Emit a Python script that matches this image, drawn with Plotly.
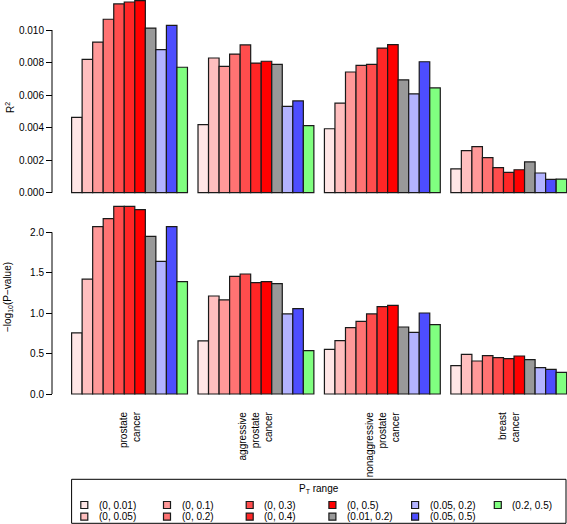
import plotly.graph_objects as go

# ---------------- data ----------------
categories = ["prostate<br>cancer",
              "aggressive<br>prostate<br>cancer",
              "nonaggressive<br>prostate<br>cancer",
              "breast<br>cancer"]
pt_ranges = ["(0, 0.01)", "(0, 0.05)", "(0, 0.1)", "(0, 0.2)", "(0, 0.3)",
             "(0, 0.4)", "(0, 0.5)", "(0.01, 0.2)", "(0.05, 0.2)",
             "(0.05, 0.5)", "(0.2, 0.5)"]
colors = ["#FFE6E6", "#FFBFBF", "#FF9999", "#FF7373", "#FF4D4D", "#FF2626",
          "#FF0000", "#999999", "#B3B3FF", "#4D4DFF", "#80FF80"]

r2_prostate = [0.00463, 0.0082, 0.00926, 0.01066, 0.0116, 0.01172, 0.0118,
               0.01012, 0.00879, 0.01029, 0.00771]
r2_aggressive = [0.00418, 0.00828, 0.00777, 0.00852, 0.00908, 0.00797,
                 0.00808, 0.00789, 0.00531, 0.00564, 0.00412]
r2_nonaggressive = [0.00393, 0.00551, 0.00742, 0.00783, 0.00789, 0.00889,
                    0.0091, 0.00693, 0.00608, 0.00805, 0.00644]
r2_breast = [0.00146, 0.00258, 0.00283, 0.00215, 0.00154, 0.00125, 0.00141,
             0.00189, 0.00121, 0.00082, 0.00084]

lp_prostate = [0.755, 1.42, 2.07, 2.17, 2.32, 2.32, 2.28, 1.95, 1.64, 2.07, 1.39]
lp_aggressive = [0.656, 1.212, 1.163, 1.456, 1.484, 1.377, 1.389, 1.364,
                 0.99, 1.055, 0.536]
lp_nonaggressive = [0.553, 0.66, 0.82, 0.899, 0.99, 1.08, 1.097, 0.829,
                    0.763, 1.002, 0.857]
lp_breast = [0.35, 0.49, 0.408, 0.474, 0.449, 0.437, 0.47, 0.425, 0.326,
             0.305, 0.268]

r2_ticks = [0.0, 0.002, 0.004, 0.006, 0.008, 0.010]
lp_ticks = [0.0, 0.5, 1.0, 1.5, 2.0]

r2_all = [r2_prostate, r2_aggressive, r2_nonaggressive, r2_breast]
lp_all = [lp_prostate, lp_aggressive, lp_nonaggressive, lp_breast]

# ---------------- layout helpers ----------------
W, H = 567, 524
FONT = "Liberation Sans, Arial, Helvetica, sans-serif"


def px(xp):
    return xp / W


def py(yp):
    return 1 - yp / H


n_pt = len(pt_ranges)
step = n_pt + 1                       # one empty slot between groups
ppu = (566.7 - 71.6) / (len(categories) * step - 1)   # pixels per bar unit
x_lo = -0.5 - 71.6 / ppu
x_hi = -0.5 + (W - 71.6) / ppu

# top panel: pixels 0..199, zero at 192.7
top_scale = 162.7 / 0.010
top_range = [-(199 - 192.7) / top_scale, 192.7 / top_scale]
# bottom panel: pixels 200..400, zero at 394
bot_scale = 161.7 / 2.0
bot_range = [-(400 - 394) / bot_scale, (394 - 200) / bot_scale]

fig = go.Figure()
for j, pt in enumerate(pt_ranges):
    xs = [g * step + j for g in range(len(categories))]
    fig.add_trace(go.Bar(
        x=xs, y=[vals[j] for vals in r2_all], width=1,
        marker=dict(color=colors[j], line=dict(color="#1a1a1a", width=1.2)),
        name=pt, showlegend=False, xaxis="x", yaxis="y"))
    fig.add_trace(go.Bar(
        x=xs, y=[vals[j] for vals in lp_all], width=1,
        marker=dict(color=colors[j], line=dict(color="#1a1a1a", width=1.2)),
        name=pt, showlegend=False, xaxis="x2", yaxis="y2"))

axis_x = dict(range=[x_lo, x_hi], domain=[0, 1], showticklabels=False,
              showgrid=False, zeroline=False, showline=False, ticks="")
axis_y_common = dict(showgrid=False, zeroline=False, showline=False,
                     ticks="outside", ticklen=6, tickwidth=1,
                     tickcolor="black", anchor="free", position=px(52),
                     tickfont=dict(family=FONT, size=10, color="black"))

fig.update_layout(
    width=W, height=H,
    margin=dict(l=0, r=0, t=0, b=0),
    paper_bgcolor="white", plot_bgcolor="white",
    barmode="overlay",
    font=dict(family=FONT, size=10, color="black"),
    xaxis=dict(axis_x, anchor="y"),
    xaxis2=dict(axis_x, anchor="y2"),
    yaxis=dict(axis_y_common, domain=[py(199), py(0)], range=top_range,
               tickvals=r2_ticks, ticktext=[f"{v:.3f}" for v in r2_ticks]),
    yaxis2=dict(axis_y_common, domain=[py(400), py(200)], range=bot_range,
                tickvals=lp_ticks, ticktext=[f"{v:.1f}" for v in lp_ticks]),
)

shapes = []
# y-axis lines spanning the tick range (R style)
shapes.append(dict(type="line", xref="paper", yref="y", x0=px(52), x1=px(52),
                   y0=r2_ticks[0], y1=r2_ticks[-1],
                   line=dict(color="black", width=1)))
shapes.append(dict(type="line", xref="paper", yref="y2", x0=px(52), x1=px(52),
                   y0=lp_ticks[0], y1=lp_ticks[-1],
                   line=dict(color="black", width=1)))

annotations = []
# y-axis titles
annotations.append(dict(text="R<sup>2</sup>", xref="paper", yref="paper",
                        x=px(10), y=py(108), showarrow=False, textangle=-90,
                        font=dict(family=FONT, size=10, color="black"),
                        xanchor="center", yanchor="middle"))
annotations.append(dict(text="\u2212log<sub>10</sub>(P\u2212value)",
                        xref="paper", yref="paper",
                        x=px(8), y=py(297), showarrow=False, textangle=-90,
                        font=dict(family=FONT, size=10, color="black"),
                        xanchor="center", yanchor="middle"))
# category labels
for g, cat in enumerate(categories):
    xc = g * step + (n_pt - 1) / 2
    annotations.append(dict(text=cat, xref="x2", yref="paper", x=xc,
                            y=py(409), showarrow=False, textangle=-90,
                            align="right", xanchor="center", yanchor="top",
                            font=dict(family=FONT, size=10, color="black")))

# legend box (drawn manually, R style)
shapes.append(dict(type="rect", xref="paper", yref="paper",
                   x0=px(71.6), x1=px(566), y0=py(523.3), y1=py(479.3),
                   line=dict(color="black", width=1), fillcolor="white"))
annotations.append(dict(text="P<sub>T</sub> range", xref="paper",
                        yref="paper", x=px(318.8), y=py(489), showarrow=False,
                        xanchor="center", yanchor="middle",
                        font=dict(family=FONT, size=10, color="black")))
rows = 2
col_x0, col_dx = 84.3, 82.7
row_y = [505, 516.7]
sq = 3.5
for k, pt in enumerate(pt_ranges):
    c, r = k // rows, k % rows
    cx, cy = col_x0 + c * col_dx, row_y[r]
    shapes.append(dict(type="rect", xref="paper", yref="paper",
                       x0=px(cx - sq), x1=px(cx + sq),
                       y0=py(cy + sq), y1=py(cy - sq),
                       fillcolor=colors[k],
                       line=dict(color="#1a1a1a", width=1.2)))
    annotations.append(dict(text=pt, xref="paper", yref="paper",
                            x=px(cx + 12.5), y=py(cy), showarrow=False,
                            xanchor="left", yanchor="middle",
                            font=dict(family=FONT, size=10, color="black")))

fig.update_layout(shapes=shapes, annotations=annotations)
fig.write_html("out.html",
               config={"displayModeBar": False},
               post_script="document.body.style.margin='0';"
                           "document.body.style.padding='0';")
